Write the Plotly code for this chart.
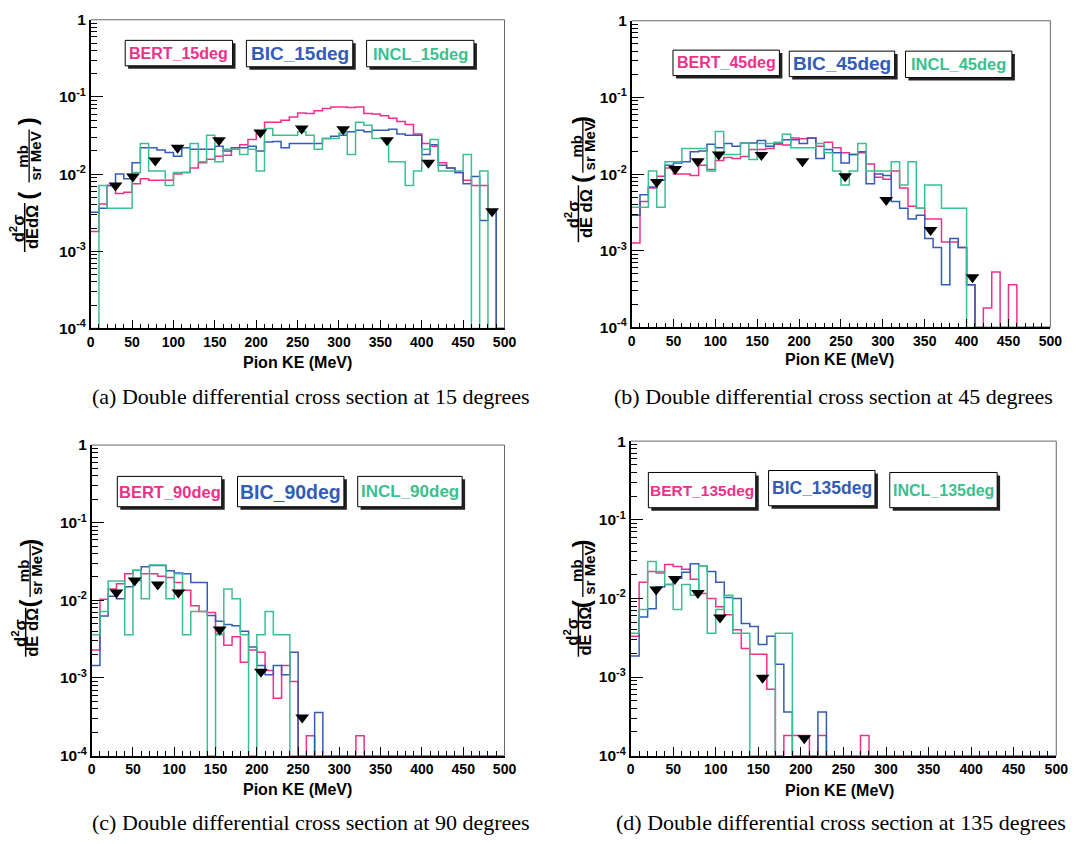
import plotly.graph_objects as go

W, H = 1086, 844
def fx(x): return x / W
def fy(y): return 1 - y / H

# ---------------- data ----------------
bin_edges = list(range(0, 510, 10))  # 10 MeV bins, 0..500 MeV

# (a) 15 degrees
bert_15 = [1.8e-3, 4.1e-3, 7.1e-3, 5.6e-3, 5.8e-3, 7.5e-3, 8.7e-3, 8.3e-3, 8.3e-3, 8.3e-3,
           1.0e-2, 1.05e-2, 1.2e-2, 1.4e-2, 1.56e-2, 1.7e-2, 1.75e-2, 2.2e-2, 2.4e-2, 2.8e-2,
           3.4e-2, 4.7e-2, 4.7e-2, 5.0e-2, 5.5e-2, 6.2e-2, 6.1e-2, 6.6e-2, 7.1e-2, 7.4e-2,
           7.4e-2, 7.3e-2, 7.4e-2, 6.1e-2, 6.0e-2, 5.7e-2, 5.3e-2, 4.8e-2, 4.4e-2, 3.3e-2,
           2.5e-2, 2.3e-2, 1.4e-2, 1.2e-2, 1.05e-2, 8.3e-3, 7.1e-3, 7.1e-3, 3.3e-3, 0]
bic_15 = [3.2e-3, 3.6e-3, 7.1e-3, 1.0e-2, 8.7e-3, 1.4e-2, 2.2e-2, 2.2e-2, 2.05e-2, 1.9e-2,
          1.7e-2, 2.2e-2, 2.1e-2, 2.1e-2, 2.1e-2, 2.3e-2, 2.0e-2, 2.2e-2, 2.2e-2, 2.3e-2,
          2.0e-2, 2.6e-2, 2.65e-2, 2.2e-2, 2.5e-2, 2.5e-2, 2.5e-2, 2.5e-2, 2.9e-2, 3.1e-2,
          3.2e-2, 3.55e-2, 3.7e-2, 3.55e-2, 3.7e-2, 3.7e-2, 3.8e-2, 3.3e-2, 3.2e-2, 3.2e-2,
          1.8e-2, 2.4e-2, 1.3e-2, 1.2e-2, 1.05e-2, 7.5e-3, 9.3e-3, 2.5e-3, 3.3e-3, 0]
incl_15 = [0, 7.1e-3, 3.6e-3, 3.6e-3, 3.6e-3, 1.05e-2, 2.5e-2, 1.1e-2, 1.1e-2, 7.1e-3,
           1.05e-2, 1.05e-2, 2.5e-2, 1.45e-2, 3.2e-2, 1.45e-2, 2.1e-2, 2.1e-2, 1.8e-2, 2.1e-2,
           1.1e-2, 3.9e-2, 3.2e-2, 3.2e-2, 3.2e-2, 3.55e-2, 3.2e-2, 2.1e-2, 2.9e-2, 2.9e-2,
           3.4e-2, 1.8e-2, 4.7e-2, 4.3e-2, 2.9e-2, 2.9e-2, 1.45e-2, 1.45e-2, 7.1e-3, 1.1e-2,
           2.1e-2, 2.8e-2, 1.1e-2, 1.1e-2, 1.1e-2, 1.8e-2, 0, 1.1e-2, 0, 0]
data_15_x = [30, 51, 78, 105, 155, 205, 255, 305, 358, 408, 485]
data_15_y = [7.1e-3, 9.3e-3, 1.5e-2, 2.2e-2, 2.75e-2, 3.45e-2, 3.9e-2, 3.8e-2, 2.75e-2, 1.4e-2, 3.3e-3]

# (b) 45 degrees
bert_45 = [1.26e-3, 4.4e-3, 6.6e-3, 9.4e-3, 1.2e-2, 1.0e-2, 1.0e-2, 9.6e-3, 1.3e-2, 1.15e-2,
           1.5e-2, 1.65e-2, 1.6e-2, 1.7e-2, 2.1e-2, 2.1e-2, 2.15e-2, 2.45e-2, 2.4e-2, 2.95e-2,
           2.9e-2, 2.95e-2, 2.3e-2, 2.6e-2, 2.2e-2, 1.9e-2, 1.8e-2, 1.9e-2, 1.35e-2, 9.1e-3,
           8.6e-3, 1.1e-2, 6.6e-3, 3.8e-3, 3.6e-3, 2.6e-3, 2.6e-3, 1.3e-3, 1.3e-3, 1.1e-3,
           3.6e-4, 0, 1.8e-4, 5.3e-4, 0, 3.6e-4, 0, 0, 0, 0]
bic_45 = [2.9e-3, 5.4e-3, 6.8e-3, 8.3e-3, 1.3e-2, 1.4e-2, 1.45e-2, 1.95e-2, 2.0e-2, 2.45e-2,
          2.2e-2, 2.5e-2, 2.3e-2, 2.55e-2, 2.55e-2, 2.75e-2, 2.3e-2, 2.55e-2, 2.8e-2, 2.8e-2,
          2.5e-2, 2.95e-2, 1.6e-2, 2.1e-2, 1.9e-2, 1.4e-2, 1.8e-2, 1.95e-2, 7.5e-3, 1.0e-2,
          9.6e-3, 4.4e-3, 3.6e-3, 2.6e-3, 2.9e-3, 1.45e-3, 1.1e-3, 3.6e-4, 1.45e-3, 1.1e-3,
          3.6e-4, 0, 0, 0, 0, 0, 0, 0, 0, 0]
incl_45 = [3.7e-3, 3.7e-3, 1.1e-2, 3.7e-3, 1.45e-2, 1.45e-2, 2.15e-2, 2.15e-2, 2.15e-2, 1.1e-2,
           3.6e-2, 1.8e-2, 1.8e-2, 2.55e-2, 1.55e-2, 2.5e-2, 2.5e-2, 2.6e-2, 3.3e-2, 2.2e-2,
           2.2e-2, 2.2e-2, 2.5e-2, 1.9e-2, 1.1e-2, 7.2e-3, 1.1e-2, 2.5e-2, 1.1e-2, 1.1e-2,
           1.1e-2, 1.45e-2, 7.2e-3, 1.45e-2, 3.6e-3, 7.2e-3, 7.2e-3, 3.6e-3, 3.6e-3, 3.6e-3,
           0, 0, 0, 0, 0, 0, 0, 0, 0, 0]
data_45_x = [30, 52, 79, 104, 155, 204, 255, 304, 357, 407]
data_45_y = [7.9e-3, 1.17e-2, 1.47e-2, 1.8e-2, 1.78e-2, 1.47e-2, 9.4e-3, 4.6e-3, 1.87e-3, 4.5e-4]

# (c) 90 degrees
bert_90 = [2.3e-3, 1.03e-2, 1.4e-2, 1.63e-2, 2.2e-2, 2.45e-2, 2.2e-2, 2.2e-2, 2.05e-2, 1.97e-2,
           1.7e-2, 1.35e-2, 8.5e-3, 7.2e-3, 7.0e-3, 3.7e-3, 2.65e-3, 3.4e-3, 1.6e-3, 2.3e-3,
           2.15e-3, 1.25e-3, 5.5e-4, 1.45e-3, 9e-4, 0, 1.8e-4, 0, 0, 0,
           0, 0, 1.8e-4, 0, 0, 0, 0, 0, 0, 0,
           0, 0, 0, 0, 0, 0, 0, 0, 0, 0]
bic_90 = [1.45e-3, 6.3e-3, 1.13e-2, 1.05e-2, 1.5e-2, 1.8e-2, 2.7e-2, 2.8e-2, 2.8e-2, 2.4e-2,
          2.25e-2, 2.2e-2, 1.7e-2, 1.7e-2, 6.4e-3, 5.4e-3, 4.9e-3, 4.7e-3, 4.0e-3, 2.5e-3,
          1.45e-3, 1.1e-3, 1.45e-3, 1.1e-3, 2.15e-3, 0, 0, 3.6e-4, 0, 0,
          0, 0, 0, 0, 0, 0, 0, 0, 0, 0,
          0, 0, 0, 0, 0, 0, 0, 0, 0, 0]
incl_90 = [3.6e-3, 7.2e-3, 1.77e-2, 1.77e-2, 3.6e-3, 2.45e-2, 1.05e-2, 2.85e-2, 2.85e-2, 1.05e-2,
           2.2e-2, 3.6e-3, 7.2e-3, 7.2e-3, 0, 3.6e-3, 1.4e-2, 1.05e-2, 3.6e-3, 0,
           3.6e-3, 7.2e-3, 3.6e-3, 3.6e-3, 0, 0, 0, 0, 0, 0,
           0, 0, 0, 0, 0, 0, 0, 0, 0, 0,
           0, 0, 0, 0, 0, 0, 0, 0, 0, 0]
data_90_x = [30, 52, 80, 105, 155, 205, 255]
data_90_y = [1.26e-2, 1.8e-2, 1.6e-2, 1.26e-2, 4.2e-3, 1.2e-3, 3.1e-4]

# (d) 135 degrees
bert_135 = [3.3e-3, 1.6e-2, 2.2e-2, 2.1e-2, 2.7e-2, 2.55e-2, 2.35e-2, 1.75e-2, 1.15e-2, 1.0e-2,
            7.8e-3, 6.2e-3, 4.0e-3, 2.3e-3, 1.95e-3, 1.95e-3, 7e-4, 0, 1.8e-4, 1.8e-4,
            1.8e-4, 0, 1.8e-4, 0, 0, 0, 0, 1.8e-4, 0, 0,
            0, 0, 0, 0, 0, 0, 0, 0, 0, 0,
            0, 0, 0, 0, 0, 0, 0, 0, 0, 0]
bic_135 = [1.85e-3, 5.8e-3, 7.4e-3, 1.4e-2, 1.5e-2, 1.8e-2, 2.15e-2, 2.75e-2, 2.6e-2, 2.2e-2,
           1.6e-2, 1.03e-2, 1.0e-2, 4.8e-3, 4.4e-3, 2.6e-3, 3.3e-3, 1.45e-3, 3.6e-4, 0,
           0, 0, 3.6e-4, 0, 0, 0, 0, 0, 0, 0,
           0, 0, 0, 0, 0, 0, 0, 0, 0, 0,
           0, 0, 0, 0, 0, 0, 0, 0, 0, 0]
incl_135 = [3.6e-3, 7.2e-3, 2.95e-2, 2.2e-2, 1.5e-2, 7.2e-3, 1.5e-2, 1.1e-2, 2.6e-2, 3.6e-3,
            7.2e-3, 1.1e-2, 3.6e-3, 3.6e-3, 0, 0, 0, 3.6e-3, 3.6e-3, 0,
            0, 0, 0, 0, 0, 0, 0, 0, 0, 0,
            0, 0, 0, 0, 0, 0, 0, 0, 0, 0,
            0, 0, 0, 0, 0, 0, 0, 0, 0, 0]
data_135_x = [30, 52, 79, 105, 155, 204]
data_135_y = [1.3e-2, 1.76e-2, 1.17e-2, 5.7e-3, 9.8e-4, 1.66e-4]

angles = ["15", "45", "90", "135"]
captions = ["(a) Double differential cross section at 15 degrees",
            "(b) Double differential cross section at 45 degrees",
            "(c) Double differential cross section at 90 degrees",
            "(d) Double differential cross section at 135 degrees"]
x_tick_vals = list(range(0, 501, 50))
y_tick_vals = [1e-4, 1e-3, 1e-2, 1e-1, 1]
y_tick_text = ["10<sup>-4</sup>", "10<sup>-3</sup>", "10<sup>-2</sup>", "10<sup>-1</sup>", "1"]

series = [
    (bert_15, bic_15, incl_15, data_15_x, data_15_y),
    (bert_45, bic_45, incl_45, data_45_x, data_45_y),
    (bert_90, bic_90, incl_90, data_90_x, data_90_y),
    (bert_135, bic_135, incl_135, data_135_x, data_135_y),
]

# ---------------- style / layout ----------------
PINK, BLUE, GREEN = "#ec3189", "#335cb6", "#3cbf8e"
SANS = "Liberation Sans"
SERIF = "Liberation Serif"
FLOOR = 1e-4  # empty bins drawn on the frame bottom, as ROOT does

# plot frames in pixels: (x0, x1, ytop, ybottom)
frames = [(88, 508, 11, 326), (637, 1062, 12, 325), (89, 508, 445, 762), (636, 1068, 441, 762)]
# legend boxes (pixels) x0,y0,x1,y1 and font sizes
boxes = [
    [(123, 32, 235, 61, 16), (246, 32, 357, 62, 19), (368, 32, 480, 62, 16.5)],
    [(679, 42, 790, 71, 16), (797, 43, 907, 72, 19), (915, 43, 1026, 73, 16.5)],
    [(115, 477, 224, 511, 16.5), (237, 477, 348, 511, 19.5), (359, 477, 468, 511, 17)],
    [(654, 473, 766, 512, 15.5), (776, 471, 887, 510, 17.5), (899, 473, 1011, 512, 16)],
]
xtitle_pos = [(298, 361), (848, 358), (298, 797), (848, 798)]
caption_pos = [(312, 395), (842, 395), (312, 830), (850, 830)]
# y-title: x0, frac center y, frac half length, paren center y, paren half, den text
ytitles = [(8, 223, 25, 153, 38, "dEdΩ"), (570, 209, 29, 143, 30, "dE dΩ"),
           (9, 636, 25, 576, 31, "dE dΩ"), (570, 635, 26, 576, 31, "dE dΩ")]

fig = go.Figure()
shapes = []
annotations = []

minor_y = [m * 10.0 ** e for e in range(-4, 0) for m in range(2, 10)]

for k in range(4):
    ax = "" if k == 0 else str(k + 1)
    bert, bic, incl, dx, dy = series[k]
    for vals, col in ((bert, PINK), (bic, BLUE), (incl, GREEN)):
        yv = [v if v > 0 else FLOOR for v in vals]
        fig.add_trace(go.Scatter(
            x=bin_edges, y=yv + [yv[-1]], mode="lines",
            line=dict(shape="hv", color=col, width=1.5),
            xaxis="x" + ax, yaxis="y" + ax, hoverinfo="skip"))
    fig.add_trace(go.Scatter(
        x=dx, y=dy, mode="markers",
        marker=dict(symbol="triangle-down", size=12, color="black"),
        xaxis="x" + ax, yaxis="y" + ax))

    x0, x1, yt, yb = frames[k]
    xfont = dict(family=SANS, size=14, color="black", weight="bold")
    yfont = dict(family=SANS, size=15.5, color="black", weight="bold")
    fig.update_layout(**{
        "xaxis" + ax: dict(domain=[fx(x0), fx(x1)], anchor="y" + ax, range=[0, 500],
                           showgrid=False, zeroline=False, showline=True,
                           linecolor="black", linewidth=1.5, ticks="inside", ticklen=9,
                           tickwidth=1, tickcolor="black", tickvals=x_tick_vals,
                           ticktext=[str(v) for v in x_tick_vals], tickfont=xfont,
                           minor=dict(ticks="inside", ticklen=5, tickcolor="black",
                                      tickvals=list(range(0, 501, 10)))),
        "yaxis" + ax: dict(domain=[fy(yb), fy(yt)], anchor="x" + ax, type="log",
                           range=[-4, 0], showgrid=False, zeroline=False, showline=True,
                           linecolor="black", linewidth=1.5, ticks="inside", ticklen=13,
                           tickwidth=1, tickcolor="black", tickvals=y_tick_vals,
                           ticktext=y_tick_text, tickfont=yfont,
                           minor=dict(ticks="inside", ticklen=7, tickcolor="black",
                                      tickvals=minor_y)),
    })
    # top and right frame lines
    shapes.append(dict(type="line", xref="paper", yref="paper", x0=fx(x0), x1=fx(x1),
                       y0=fy(yt), y1=fy(yt), line=dict(color="#666666", width=1)))
    shapes.append(dict(type="line", xref="paper", yref="paper", x0=fx(x1), x1=fx(x1),
                       y0=fy(yt), y1=fy(yb), line=dict(color="#666666", width=1)))

    # legend boxes
    names = ["BERT", "BIC", "INCL"]
    cols = [PINK, BLUE, GREEN]
    for (bx0, by0, bx1, by1, fs), nm, col in zip(boxes[k], names, cols):
        shapes.append(dict(type="rect", xref="paper", yref="paper",
                           x0=fx(bx0 + 3), x1=fx(bx1), y0=fy(by1), y1=fy(by0 + 3),
                           fillcolor="#222222", line=dict(width=0)))
        shapes.append(dict(type="rect", xref="paper", yref="paper",
                           x0=fx(bx0), x1=fx(bx1 - 3), y0=fy(by1 - 3), y1=fy(by0),
                           fillcolor="white", line=dict(color="black", width=1)))
        annotations.append(dict(xref="paper", yref="paper", x=fx((bx0 + bx1 - 3) / 2),
                                y=fy((by0 + by1 - 3) / 2), xanchor="center", yanchor="middle",
                                text="<b>%s_%sdeg</b>" % (nm, angles[k]), showarrow=False,
                                font=dict(family=SANS, size=fs, color=col)))

    # x title and caption
    tx, ty = xtitle_pos[k]
    annotations.append(dict(xref="paper", yref="paper", x=fx(tx), y=fy(ty),
                            xanchor="center", yanchor="middle", showarrow=False,
                            text="<b>Pion KE (MeV)</b>",
                            font=dict(family=SANS, size=16, color="black")))
    cx, cy = caption_pos[k]
    annotations.append(dict(xref="paper", yref="paper", x=fx(cx), y=fy(cy),
                            xanchor="center", yanchor="middle", showarrow=False,
                            text=captions[k],
                            font=dict(family=SERIF, size=22, color="black")))

    # y title as a rotated fraction
    bx, yfc, yfh, ypc, yph, den = ytitles[k]
    def rot(x, y, txt, size):
        annotations.append(dict(xref="paper", yref="paper", x=fx(x), y=fy(y),
                                xanchor="center", yanchor="middle", showarrow=False,
                                textangle=-90, text=txt,
                                font=dict(family=SANS, size=size, color="black", weight="bold")))
    rot(bx + 6, yfc + 1, "d<sup>2</sup>σ", 16.5)
    rot(bx + 20, yfc, den, 16.5)
    shapes.append(dict(type="line", xref="paper", yref="paper", x0=fx(bx + 13), x1=fx(bx + 13),
                       y0=fy(yfc - yfh), y1=fy(yfc + yfh), line=dict(color="black", width=1.5)))
    rot(bx + 11, ypc - 3, "mb", 15)
    rot(bx + 24, ypc - 3, "sr MeV", 15)
    shapes.append(dict(type="line", xref="paper", yref="paper", x0=fx(bx + 17.5), x1=fx(bx + 17.5),
                       y0=fy(ypc - 3 - 27), y1=fy(ypc - 3 + 27), line=dict(color="black", width=1.3)))
    rot(bx + 16, ypc + yph, "(", 24)
    rot(bx + 16, ypc - yph, ")", 24)

fig.update_layout(width=W, height=H, margin=dict(l=0, r=0, t=0, b=0),
                  paper_bgcolor="white", plot_bgcolor="white", showlegend=False,
                  shapes=shapes, annotations=annotations)

fig.write_html("out.html")
